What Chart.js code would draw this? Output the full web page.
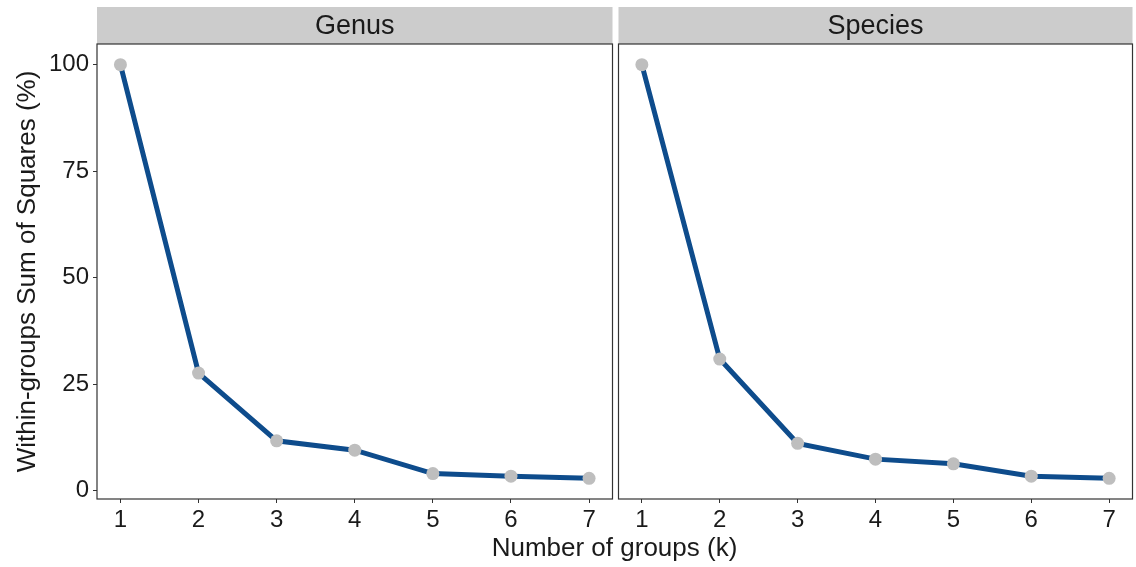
<!DOCTYPE html>
<html>
<head>
<meta charset="utf-8">
<script src="https://cdn.jsdelivr.net/npm/chart.js@4/dist/chart.umd.min.js"></script>
<style>
  body { margin: 0; background: #fff; }
  #wrap { position: relative; width: 1136px; height: 567px; overflow: hidden; }
  #c1 { position: absolute; left: 0; top: 0; }
  #c2 { position: absolute; left: 612px; top: 0; }
  #xtitle {
    position: absolute; left: 97px; width: 1035px; top: 532px;
    text-align: center; font: 26px "Liberation Sans", Arial, sans-serif; color: #1a1a1a;
  }
</style>
</head>
<body>
<div id="wrap">
  <canvas id="c1" width="619" height="567"></canvas>
  <canvas id="c2" width="527" height="567"></canvas>
  <div id="xtitle">Number of groups (k)</div>
</div>
<script>
const groups = [1, 2, 3, 4, 5, 6, 7];
const genus = [100, 27.6, 11.7, 9.5, 4.0, 3.4, 2.9];
const species = [100, 30.9, 11.1, 7.4, 6.3, 3.4, 2.9];
const yTicks = [0, 25, 50, 75, 100];
const panels = ['Genus', 'Species'];

const FONT = '"Liberation Sans", Arial, sans-serif';

// grey facet strip above the panel + black panel border
const stripPlugin = {
  id: 'strip',
  afterDraw(chart, args, opts) {
    const a = chart.chartArea;
    const ctx = chart.ctx;
    ctx.save();
    ctx.fillStyle = '#cccccc';
    ctx.fillRect(a.left, 7, a.right - a.left, a.top - 7);
    ctx.fillStyle = '#1a1a1a';
    ctx.font = '27px ' + FONT;
    ctx.textAlign = 'center';
    ctx.textBaseline = 'middle';
    ctx.fillText(opts.label, (a.left + a.right) / 2, (7 + a.top) / 2 + 1);
    ctx.strokeStyle = '#333333';
    ctx.lineWidth = 1.2;
    ctx.strokeRect(a.left, a.top, a.right - a.left, a.bottom - a.top);
    ctx.restore();
  }
};

function makeChart(id, label, values, first) {
  return new Chart(document.getElementById(id), {
    type: 'line',
    data: {
      datasets: [{
        data: groups.map((k, i) => ({ x: k, y: values[i] })),
        borderColor: '#0e4c8c',
        borderWidth: 5,
        pointRadius: 6.5,
        pointBackgroundColor: '#bebebe',
        pointBorderWidth: 0,
        tension: 0
      }]
    },
    options: {
      responsive: false,
      animation: false,
      layout: { padding: { left: 0, right: 3, top: 44, bottom: 0 } },
      plugins: {
        legend: { display: false },
        tooltip: { enabled: false },
        strip: { label: label }
      },
      scales: {
        x: {
          type: 'linear',
          min: 0.7,
          max: 7.3,
          afterBuildTicks: s => { s.ticks = groups.map(v => ({ value: v })); },
          afterFit: s => { s.height = 68; },
          grid: { drawOnChartArea: false, drawTicks: true, tickLength: 4, color: '#333333' },
          border: { display: false },
          ticks: { font: { family: FONT, size: 24 }, color: '#1a1a1a', padding: 3, maxRotation: 0 }
        },
        y: {
          display: first,
          min: -1.96,
          max: 104.86,
          afterBuildTicks: s => { s.ticks = yTicks.map(v => ({ value: v })); },
          afterFit: s => { s.width = first ? 97 : 0; },
          grid: { drawOnChartArea: false, drawTicks: true, tickLength: 4, color: '#333333' },
          border: { display: false },
          ticks: { font: { family: FONT, size: 24 }, color: '#1a1a1a', padding: 4 },
          title: {
            display: true,
            text: 'Within-groups Sum of Squares (%)',
            font: { family: FONT, size: 26 },
            color: '#1a1a1a',
            padding: { top: 12, bottom: 0 }
          }
        }
      }
    },
    plugins: [stripPlugin]
  });
}

makeChart('c1', panels[0], genus, true);
makeChart('c2', panels[1], species, false);
</script>
</body>
</html>
